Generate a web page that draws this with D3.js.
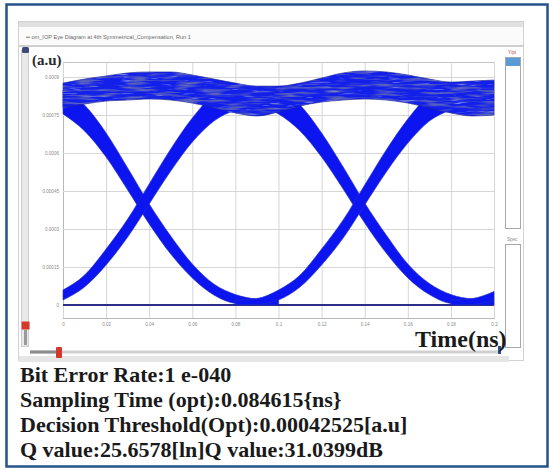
<!DOCTYPE html>
<html><head><meta charset="utf-8">
<script src="https://cdn.jsdelivr.net/npm/d3@7"></script>
<style>body{margin:0;background:#fff}svg{display:block}</style>
</head><body><svg id="c" width="552" height="470"></svg>
<script>
// ---------- data ----------
const tGrid = [0,0.01,0.02,0.03,0.04,0.05,0.06,0.07,0.08,0.09,0.10,0.11,0.12,0.13,0.14,0.15,0.16,0.17,0.18,0.19,0.20];
const xTicks = [0,0.02,0.04,0.06,0.08,0.1,0.12,0.14,0.16,0.18,0.2];
const xTickLabels = ["0","0.02","0.04","0.06","0.08","0.1","0.12","0.14","0.16","0.18","0.2"];
const yTicks = [0,0.00015,0.0003,0.00045,0.0006,0.00075,0.0009];
const yTickLabels = ["0","0.00015","0.0003","0.00045","0.0006","0.00075","0.0009"];

// "1" level band (upper / lower envelope, a.u.)
const topUpper = [0.000876,0.000892,0.000904,0.000916,0.000920,0.000920,0.000908,0.000892,0.000876,0.000864,0.000864,0.000876,0.000896,0.000916,0.000924,0.000920,0.000908,0.000892,0.000880,0.000884,0.000888];
const topLower = [0.000778,0.000793,0.000805,0.000809,0.000813,0.000809,0.000797,0.000778,0.000758,0.000746,0.000762,0.000786,0.000801,0.000809,0.000813,0.000809,0.000797,0.000778,0.000758,0.000746,0.000750];

// transition bundles (time, upper edge, lower edge)
const fallA_t  = [0,0.01,0.02,0.03,0.04,0.05,0.06,0.07,0.08,0.09,0.10];
const fallA_hi = [0.000850,0.000789,0.000679,0.000541,0.000399,0.000272,0.000162,0.0000829,0.0000414,0.0000237,0.0000197];
const fallA_lo = [0.000754,0.000687,0.000584,0.000454,0.000320,0.000201,0.000107,0.0000395,0.0000059,0,0];

const riseA_t  = [0,0.01,0.02,0.03,0.04,0.05,0.06,0.07,0.08,0.09];
const riseA_hi = [0.0000592,0.000118,0.000221,0.000339,0.000478,0.000616,0.000738,0.000829,0.000860,0.000850];
const riseA_lo = [0.0000197,0.0000711,0.000158,0.000268,0.000399,0.000529,0.000643,0.000726,0.000770,0.000790];

const fallB_t  = [0.09,0.10,0.11,0.12,0.13,0.14,0.15,0.16,0.17,0.18,0.19,0.20];
const fallB_hi = [0.000850,0.000850,0.000789,0.000679,0.000545,0.000403,0.000276,0.000162,0.0000849,0.0000414,0.0000237,0.0000197];
const fallB_lo = [0.000789,0.000754,0.000687,0.000584,0.000458,0.000324,0.000205,0.000107,0.0000414,0.0000059,0,0];

const riseB_t  = [0.08,0.09,0.10,0.11,0.12,0.13,0.14,0.15,0.16,0.17,0.18,0.19];
const riseB_hi = [0.0000197,0.0000257,0.0000592,0.000118,0.000221,0.000336,0.000474,0.000612,0.000734,0.000829,0.000870,0.000870];
const riseB_lo = [0,0.000002,0.0000197,0.0000711,0.000158,0.000264,0.000395,0.000525,0.000639,0.000726,0.000770,0.000790];

const riseC_t  = [0.18,0.19,0.20];
const riseC_hi = [0.0000197,0.0000257,0.0000533];
const riseC_lo = [0,0.000002,0.0000178];

// "0" level trace
const zeroT = [0,0.2];
const zeroV = [0,0];

const windowTitle = "•• om_IOP Eye Diagram at 4th Symmetrical_Compensation, Run 1";
const statsLines = [
  "Bit Error Rate:1 e-040",
  "Sampling Time (opt):0.084615{ns}",
  "Decision Threshold(Opt):0.00042525[a.u]",
  "Q value:25.6578[ln]Q value:31.0399dB"
];

// ---------- drawing ----------
const svg = d3.select("#c");
const defs = svg.append("defs");

// outer frame
svg.append("rect").attr("x",6.5).attr("y",4.5).attr("width",541).attr("height",462)
  .attr("fill","#fff").attr("stroke","#24528a").attr("stroke-width",2.5);

// screenshot window
svg.append("rect").attr("x",18.5).attr("y",21.5).attr("width",505).attr("height",339)
  .attr("fill","#fff").attr("stroke","#d2d2d2");
svg.append("rect").attr("x",19).attr("y",22).attr("width",504).attr("height",5).attr("fill","#e0e0e0");
svg.append("rect").attr("x",19).attr("y",27).attr("width",504).attr("height",18).attr("fill","#fbfbfb");
svg.append("line").attr("x1",19).attr("x2",523).attr("y1",46).attr("y2",46).attr("stroke","#cfcfcf").attr("stroke-width",2);
svg.append("text").attr("x",26).attr("y",39).attr("font-family","Liberation Sans, Arial").attr("font-size",5.6)
  .attr("fill","#6a6a6a").text(windowTitle);
svg.append("rect").attr("x",19).attr("y",356).attr("width",490).attr("height",6).attr("fill","#e6e6e6");

// left slider
svg.append("rect").attr("x",21.5).attr("y",50.5).attr("width",7).attr("height",296).attr("fill","#e9e9e9").attr("stroke","#cdcdcd");
svg.append("rect").attr("x",22).attr("y",47).attr("width",7).attr("height",6).attr("rx",1.5).attr("fill","#3d4a78");
svg.append("rect").attr("x",24).attr("y",329).attr("width",3).attr("height",16).attr("fill","#9a9a9a");
svg.append("rect").attr("x",21.5).attr("y",321.5).attr("width",8).attr("height",8).attr("rx",1).attr("fill","#d2382c").attr("stroke","#e88a80");

// bottom slider
svg.append("line").attr("x1",30).attr("x2",500).attr("y1",352).attr("y2",352).attr("stroke","#d0d0d0").attr("stroke-width",3);
svg.append("line").attr("x1",30).attr("x2",57).attr("y1",352).attr("y2",352).attr("stroke","#8c8c8c").attr("stroke-width",3);
svg.append("rect").attr("x",56).attr("y",347).attr("width",6).attr("height",11).attr("rx",1).attr("fill","#d2382c");

// right panel
svg.append("rect").attr("x",505.5).attr("y",57.5).attr("width",15).attr("height",171).attr("fill","#fff").attr("stroke","#a8a8a8");
svg.append("rect").attr("x",506).attr("y",58).attr("width",14).attr("height",8).attr("fill","#5b9bd5");
svg.append("text").attr("x",508).attr("y",54).attr("font-family","Liberation Sans, Arial").attr("font-size",4.5).attr("fill","#b04848").text("Y/pt");
svg.append("rect").attr("x",505.5).attr("y",244.5).attr("width",15).attr("height",103).attr("fill","#fff").attr("stroke","#a8a8a8");
svg.append("text").attr("x",507).attr("y",241).attr("font-family","Liberation Sans, Arial").attr("font-size",4.5).attr("fill","#888").text("Spec");
svg.append("rect").attr("x",498).attr("y",346).attr("width",3).attr("height",8).attr("fill","#2f4a9c");

// plot area
const px0 = 63, px1 = 494, py0 = 62, py1 = 318;
const x = d3.scaleLinear().domain([0,0.2]).range([px0,px1]);
const y = d3.scaleLinear().domain([0,0.0009]).range([305,77]);

svg.append("rect").attr("x",px0+0.5).attr("y",py0+0.5).attr("width",px1-px0).attr("height",py1-py0)
  .attr("fill","#fff").attr("stroke","#c4c4c4");

// grid via axes
const gx = svg.append("g").attr("transform",`translate(0,${py1})`)
  .call(d3.axisBottom(x).tickValues(xTicks).tickFormat((d,i)=>xTickLabels[i]).tickSize(-(py1-py0)).tickPadding(5));
gx.select(".domain").attr("stroke","#b8b8b8");
gx.selectAll(".tick line").attr("stroke","#d6d6d6");
gx.selectAll(".tick text").attr("font-size",4.6).attr("fill","#8a8a8a").attr("font-family","Liberation Sans, Arial");

const gy = svg.append("g").attr("transform",`translate(${px0},0)`)
  .call(d3.axisLeft(y).tickValues(yTicks).tickFormat((d,i)=>yTickLabels[i]).tickSize(-(px1-px0)).tickPadding(4));
gy.select(".domain").attr("stroke","#b8b8b8");
gy.selectAll(".tick line").attr("stroke","#d6d6d6");
gy.selectAll(".tick text").attr("font-size",4.6).attr("fill","#8a8a8a").attr("font-family","Liberation Sans, Arial");

// filters for the noisy "1" level
function noiseFilter(id, seed, freq, rgb, aScale, aOff){
  const f = defs.append("filter").attr("id",id).attr("x",0).attr("y",0).attr("width",1).attr("height",1);
  f.append("feTurbulence").attr("type","fractalNoise").attr("baseFrequency",freq).attr("numOctaves",2).attr("seed",seed);
  f.append("feColorMatrix").attr("type","matrix").attr("values",
    `0 0 0 0 ${rgb[0]}  0 0 0 0 ${rgb[1]}  0 0 0 0 ${rgb[2]}  ${aScale} 0 0 0 ${aOff}`);
}
noiseFilter("nDark", 3, "0.04 0.38", [0.10,0.12,0.52], 3.6, -1.65);
noiseFilter("nLight", 11, "0.06 0.45", [0.50,0.56,1.0], 3.0, -1.98);

const band = d3.area().x(d=>x(d.t)).y0(d=>y(d.lo)).y1(d=>y(d.hi)).curve(d3.curveMonotoneX);
const zip = (ts,hi,lo)=>ts.map((t,i)=>({t,hi:hi[i],lo:lo[i]}));

const plot = svg.append("g");
const bundles = [
  zip(fallA_t,fallA_hi,fallA_lo), zip(riseA_t,riseA_hi,riseA_lo),
  zip(fallB_t,fallB_hi,fallB_lo), zip(riseB_t,riseB_hi,riseB_lo),
  zip(riseC_t,riseC_hi,riseC_lo)
];
// zero level
const zline = d3.line().x(d=>x(d.t)).y(d=>y(d.v));
plot.append("path").datum(zeroT.map((t,i)=>({t,v:zeroV[i]}))).attr("d",zline)
  .attr("fill","none").attr("stroke","#2b2f86").attr("stroke-width",1.8);

plot.selectAll("path.arm").data(bundles).join("path").attr("class","arm")
  .attr("d",band).attr("fill","#0c15f0").attr("stroke","#2430c0").attr("stroke-width",0.9).attr("stroke-opacity",0.7);

// "1" level band with texture
const topData = zip(tGrid,topUpper,topLower);
defs.append("clipPath").attr("id","topClip").append("path").attr("d",band(topData));
plot.append("path").datum(topData).attr("d",band).attr("fill","#1320ea").attr("stroke","#1c2490").attr("stroke-width",1).attr("stroke-opacity",0.6);
const tex = plot.append("g").attr("clip-path","url(#topClip)");
tex.append("rect").attr("x",px0).attr("y",py0).attr("width",px1-px0).attr("height",80).attr("filter","url(#nDark)");
tex.append("rect").attr("x",px0).attr("y",py0).attr("width",px1-px0).attr("height",80).attr("filter","url(#nLight)");

// axis labels
svg.append("text").attr("x",32).attr("y",65).attr("font-family","Liberation Serif, Times New Roman")
  .attr("font-weight","bold").attr("font-size",15).attr("fill","#2a2a2a").text("(a.u)");
svg.append("text").attr("x",415).attr("y",347).attr("font-family","Liberation Serif, Times New Roman")
  .attr("font-weight","bold").attr("font-size",24).attr("fill","#1a1a1a").text("Time(ns)");

// stats text
svg.selectAll("text.stat").data(statsLines).join("text").attr("class","stat")
  .attr("x",20).attr("y",(d,i)=>382+i*25)
  .attr("font-family","Liberation Serif, Times New Roman").attr("font-weight","bold")
  .attr("font-size",22).attr("fill","#1a1a1a").text(d=>d);
</script></body></html>
